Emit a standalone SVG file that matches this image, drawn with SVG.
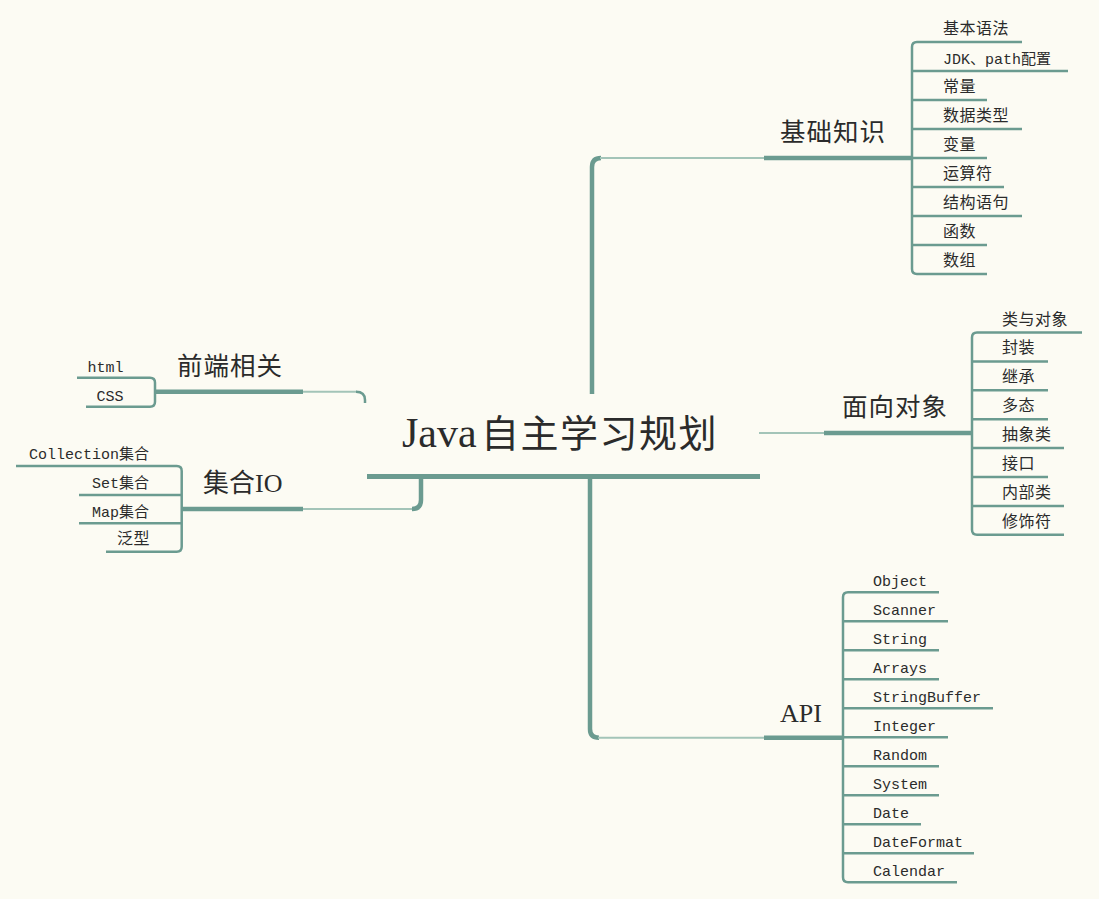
<svg xmlns="http://www.w3.org/2000/svg" width="1099" height="899" viewBox="0 0 1099 899">
<defs>
<style>
.l{stroke:#6b9b90;stroke-width:2.5;fill:none;stroke-linecap:butt}
.k{stroke:#6b9b90;stroke-width:4.5;fill:none}
.h{stroke:#a3c4b8;stroke-width:2;fill:none}
.c{font-family:"Liberation Mono","Noto Sans CJK SC",monospace;font-size:15px;fill:#2b2b2b}
.j{font-family:"Noto Sans CJK SC",sans-serif;font-size:16px;fill:#2b2b2b;letter-spacing:0.5px}
.m{font-family:"Liberation Serif","Noto Sans CJK SC",serif;font-size:26px;fill:#2b2b2b}
.mj{font-family:"Noto Sans CJK SC",sans-serif;font-size:25.5px;fill:#2b2b2b;letter-spacing:1px}
</style>
</defs>
<rect width="1099" height="899" fill="#fcfbf3"/>

<g id="connectors">
  <path class="k" d="M592 394 V167 Q592 158 601 158"/>
  <path class="h" d="M600 158 H764"/>
  <path class="k" d="M590 478 V729 Q590 737.7 599 737.7"/>
  <path class="h" d="M598 737.7 H764"/>
  <path class="h" d="M759 433 H824"/>
  <path class="h" d="M303 391.7 H357"/>
  <path class="l" d="M356 391.7 Q365 391.7 365 400 V403"/>
  <path class="h" d="M303 509 H413"/>
  <path class="k" d="M412 509 Q421 509 421 500 V478"/>
</g>

<g id="central">
  <text x="402" y="447" font-family="Liberation Serif, serif" font-size="42" fill="#2b2b2b">Java</text>
  <text x="481" y="447" font-family="Noto Sans CJK SC, sans-serif" font-size="38" letter-spacing="1.5" fill="#2b2b2b">自主学习规划</text>
  <path d="M367 476.5 H760" stroke="#6b9b90" stroke-width="5" fill="none"/>
</g>

<g id="topic-jichu">
  <text class="mj" x="780" y="141">基础知识</text>
  <path class="k" d="M764 158 H912"/>
  <path class="l" d="M1022 42 H917 Q912 42 912 47 V269 Q912 274 917 274 H987"/>
  <path class="l" d="M912 71 H1068 M912 100 H987 M912 129 H1022 M912 158 H987 M912 187 H1004 M912 216 H1022 M912 245 H987"/>
  <text class="j" x="943" y="34">基本语法</text>
  <text class="c" x="943" y="63.5">JDK、path配置</text>
  <text class="j" x="943" y="92">常量</text>
  <text class="j" x="943" y="121">数据类型</text>
  <text class="j" x="943" y="150">变量</text>
  <text class="j" x="943" y="179">运算符</text>
  <text class="j" x="943" y="208">结构语句</text>
  <text class="j" x="943" y="237">函数</text>
  <text class="j" x="943" y="266">数组</text>
</g>

<g id="topic-mianxiang">
  <text class="mj" x="842" y="416">面向对象</text>
  <path class="k" d="M824 433 H972"/>
  <path class="l" d="M1082 332.5 H977 Q972 332.5 972 337.5 V529.8 Q972 534.8 977 534.8 H1064"/>
  <path class="l" d="M972 361.4 H1048 M972 390.3 H1048 M972 419.2 H1048 M972 448.1 H1064 M972 477 H1048 M972 505.9 H1064"/>
  <text class="j" x="1002" y="324.5">类与对象</text>
  <text class="j" x="1002" y="353.4">封装</text>
  <text class="j" x="1002" y="382.3">继承</text>
  <text class="j" x="1002" y="411.2">多态</text>
  <text class="j" x="1002" y="440.1">抽象类</text>
  <text class="j" x="1002" y="469">接口</text>
  <text class="j" x="1002" y="497.9">内部类</text>
  <text class="j" x="1002" y="526.8">修饰符</text>
</g>

<g id="topic-api">
  <text class="m" x="780" y="722">API</text>
  <path class="k" d="M764 737.7 H843"/>
  <path class="l" d="M939 592.3 H848 Q843 592.3 843 597.3 V877.3 Q843 882.3 848 882.3 H957"/>
  <path class="l" d="M843 621.3 H948 M843 650.3 H939 M843 679.3 H939 M843 708.3 H993 M843 737.3 H948 M843 766.3 H939 M843 795.3 H939 M843 824.3 H921 M843 853.3 H974"/>
  <text class="c" x="873" y="586">Object</text>
  <text class="c" x="873" y="615">Scanner</text>
  <text class="c" x="873" y="644">String</text>
  <text class="c" x="873" y="673">Arrays</text>
  <text class="c" x="873" y="702">StringBuffer</text>
  <text class="c" x="873" y="731">Integer</text>
  <text class="c" x="873" y="760">Random</text>
  <text class="c" x="873" y="789">System</text>
  <text class="c" x="873" y="818">Date</text>
  <text class="c" x="873" y="847">DateFormat</text>
  <text class="c" x="873" y="876">Calendar</text>
</g>

<g id="topic-qianduan">
  <text class="mj" x="177" y="375">前端相关</text>
  <path class="k" d="M155 391.7 H303"/>
  <path class="l" d="M77 377.7 H150 Q155 377.7 155 382.7 V401.7 Q155 406.7 150 406.7 H86"/>
  <text class="c" x="123.5" y="371.5" text-anchor="end">html</text>
  <text class="c" x="123.5" y="400.5" text-anchor="end">CSS</text>
</g>

<g id="topic-jihe">
  <text x="203" y="492" font-family="Liberation Serif, Noto Sans CJK SC, serif" font-size="26" fill="#2b2b2b">集合IO</text>
  <path class="k" d="M181.7 509 H303"/>
  <path class="l" d="M16 466 H176.7 Q181.7 466 181.7 471 V546.7 Q181.7 551.7 176.7 551.7 H106"/>
  <path class="l" d="M79 495 H181.7 M79 523.3 H181.7"/>
  <text class="c" x="149" y="458.5" text-anchor="end">Collection集合</text>
  <text class="c" x="149" y="488" text-anchor="end">Set集合</text>
  <text class="c" x="149" y="516.5" text-anchor="end">Map集合</text>
  <text class="j" x="150" y="544" text-anchor="end">泛型</text>
</g>
</svg>
